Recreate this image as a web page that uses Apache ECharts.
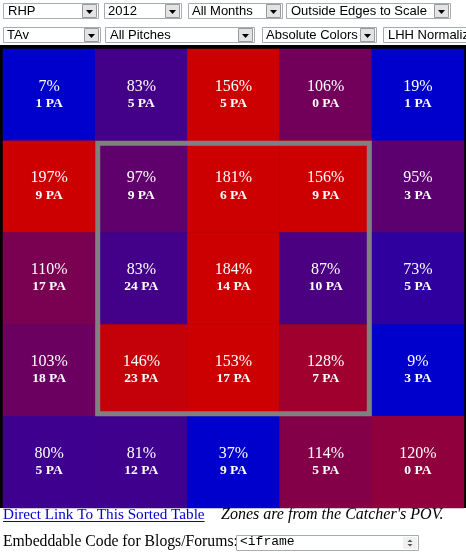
<!DOCTYPE html>
<html>
<head>
<meta charset="utf-8">
<script src="https://cdn.jsdelivr.net/npm/echarts@6/dist/echarts.min.js"></script>
<style>
  html, body { margin: 0; padding: 0; background: #ffffff; }
  #chart { width: 466px; height: 554px; }
</style>
</head>
<body>
<div id="chart"></div>
<script>
// ---- data (catcher's POV, top row first) ----
const zoneColumns = ['c1', 'c2', 'c3', 'c4', 'c5'];
const zoneRows = ['r1', 'r2', 'r3', 'r4', 'r5'];
const tavPercent = [
  [7, 83, 156, 106, 19],
  [197, 97, 181, 156, 95],
  [110, 83, 184, 87, 73],
  [103, 146, 153, 128, 9],
  [80, 81, 37, 114, 120]
];
const plateAppearances = [
  [1, 5, 5, 0, 1],
  [9, 9, 6, 9, 3],
  [17, 24, 14, 10, 5],
  [18, 23, 17, 7, 3],
  [5, 12, 9, 5, 0]
];
const colorScaleMin = 50;
const colorScaleMax = 150;

// dropdown labels (row 1, row 2)
const dropdownRow1 = ['RHP', '2012', 'All Months', 'Outside Edges to Scale'];
const dropdownRow2 = ['TAv', 'All Pitches', 'Absolute Colors', 'LHH Normaliz'];
const linkText = 'Direct Link To This Sorted Table';
const noteText = "Zones are from the Catcher's POV.";
const embedText = 'Embeddable Code for Blogs/Forums:';
const embedValue = '<iframe';

// ---- build heatmap data ----
const cells = [];
for (let r = 0; r < zoneRows.length; r++) {
  for (let c = 0; c < zoneColumns.length; c++) {
    cells.push([c, r, tavPercent[r][c], plateAppearances[r][c]]);
  }
}

// ---- UI chrome (select boxes) ----
const row1Boxes = [
  { x: 3, w: 96, tx: 8 },
  { x: 104, w: 78, tx: 108 },
  { x: 188, w: 95, tx: 192 },
  { x: 286, w: 165, tx: 291 }
];
const row2Boxes = [
  { x: 3, w: 98, tx: 7 },
  { x: 105, w: 150, tx: 110 },
  { x: 262, w: 115, tx: 266 },
  { x: 383, w: 100, tx: 388, noArrow: true }
];

function selectBox(id, spec, label, y) {
  const h = 16;
  const children = [
    { type: 'rect', shape: { x: spec.x + 0.5, y: y + 0.5, width: spec.w - 1, height: h - 1 },
      style: { fill: '#ffffff', stroke: '#a5acb2', lineWidth: 1 } },
    { type: 'text', x: spec.tx, y: y + h / 2,
      style: { text: label, fill: '#000000', font: '13px "Liberation Sans", Arial, sans-serif',
               textVerticalAlign: 'middle', textAlign: 'left' } }
  ];
  if (!spec.noArrow) {
    const bx = spec.x + spec.w - 17;
    children.push({ type: 'rect', shape: { x: bx + 0.5, y: y + 1.5, width: 14, height: 13 },
      style: { fill: '#e3e3e3', stroke: '#9a9a9a', lineWidth: 1 } });
    children.push({ type: 'polygon', shape: { points: [[bx + 4, y + 7], [bx + 11, y + 7], [bx + 7.5, y + 11]] },
      style: { fill: '#000000' } });
  }
  return { type: 'group', id: id, children: children };
}

const chromeGraphics = [];
// black table border / background
chromeGraphics.push({ type: 'rect', id: 'tableBg', z: -10, shape: { x: 0, y: 45, width: 466, height: 463 },
  style: { fill: '#000000' } });
dropdownRow1.forEach((t, i) => chromeGraphics.push(selectBox('sel1_' + i, row1Boxes[i], t, 3)));
dropdownRow2.forEach((t, i) => chromeGraphics.push(selectBox('sel2_' + i, row2Boxes[i], t, 27)));

// bottom texts
const serif = '"Liberation Serif", "Times New Roman", serif';
const linkFont = '15.2px ' + serif;
const measureCtx = document.createElement('canvas').getContext('2d');
measureCtx.font = linkFont;
const linkWidth = measureCtx.measureText(linkText).width;

chromeGraphics.push({ type: 'text', id: 'linkText', x: 3, y: 515,
  style: { text: linkText, fill: '#0000cc', font: linkFont, textVerticalAlign: 'middle' } });
chromeGraphics.push({ type: 'line', id: 'linkUnderline', shape: { x1: 3, y1: 521.5, x2: 3 + linkWidth, y2: 521.5 },
  style: { stroke: '#0000cc', lineWidth: 1 } });
chromeGraphics.push({ type: 'text', id: 'noteText', x: 221, y: 515,
  style: { text: noteText, fill: '#000000', font: 'italic 16px ' + serif, textVerticalAlign: 'middle' } });
chromeGraphics.push({ type: 'text', id: 'embedText', x: 3, y: 542,
  style: { text: embedText, fill: '#000000', font: '15.7px ' + serif, textVerticalAlign: 'middle' } });
chromeGraphics.push({ type: 'group', id: 'embedBox', children: [
  { type: 'rect', shape: { x: 236.5, y: 535.5, width: 182, height: 15 },
    style: { fill: '#ffffff', stroke: '#a5acb2', lineWidth: 1 } },
  { type: 'text', x: 240, y: 542,
    style: { text: embedValue, fill: '#000000', font: '13px "Liberation Mono", "Courier New", monospace', textVerticalAlign: 'middle' } },
  { type: 'rect', shape: { x: 403, y: 537, width: 14, height: 12 }, style: { fill: '#f0f0f0' } },
  { type: 'polygon', shape: { points: [[407.5, 542], [412.5, 542], [410, 539.5]] }, style: { fill: '#555555' } },
  { type: 'polygon', shape: { points: [[407.5, 544], [412.5, 544], [410, 546.5]] }, style: { fill: '#555555' } }
]});

const chart = echarts.init(document.getElementById('chart'), null, { renderer: 'canvas' });

const option = {
  animation: false,
  backgroundColor: '#ffffff',
  grid: { left: 3, right: 2, top: 49, bottom: 46, containLabel: false },
  xAxis: { type: 'category', data: zoneColumns, show: false },
  yAxis: { type: 'category', data: zoneRows, inverse: true, show: false },
  visualMap: {
    type: 'continuous', show: false, dimension: 2,
    min: colorScaleMin, max: colorScaleMax,
    inRange: { color: ['#0000cc', '#cc0000'] }
  },
  series: [{
    type: 'heatmap',
    data: cells,
    itemStyle: { borderWidth: 0 },
    emphasis: { disabled: true },
    label: {
      show: true,
      formatter: function (p) {
        return '{v|' + p.data[2] + '%}\n{p|' + p.data[3] + ' PA}';
      },
      rich: {
        v: { fontFamily: serif, fontSize: 16, color: '#ffffff', lineHeight: 17 },
        p: { fontFamily: serif, fontSize: 13.5, fontWeight: 'bold', color: '#ffffff', lineHeight: 17 }
      }
    }
  }],
  graphic: chromeGraphics
};
chart.setOption(option);

// strike-zone outline derived from the axes (inner 3x3 cells)
const c1 = chart.convertToPixel({ gridIndex: 0 }, [1, 1]);
const c3 = chart.convertToPixel({ gridIndex: 0 }, [3, 3]);
const c0 = chart.convertToPixel({ gridIndex: 0 }, [0, 0]);
const bandW = c1[0] - c0[0];
const bandH = c1[1] - c0[1];
const zx0 = c1[0] - bandW / 2, zx1 = c3[0] + bandW / 2;
const zy0 = c1[1] - bandH / 2, zy1 = c3[1] + bandH / 2;
const lw = 5;
chart.setOption({
  graphic: [{
    type: 'rect', id: 'zoneOutline', z: 100,
    shape: { x: zx0 + lw / 2, y: zy0 + lw / 2, width: zx1 - zx0 - lw, height: zy1 - zy0 - lw },
    style: { fill: 'none', stroke: '#808080', lineWidth: lw }
  }]
});
</script>
</body>
</html>
